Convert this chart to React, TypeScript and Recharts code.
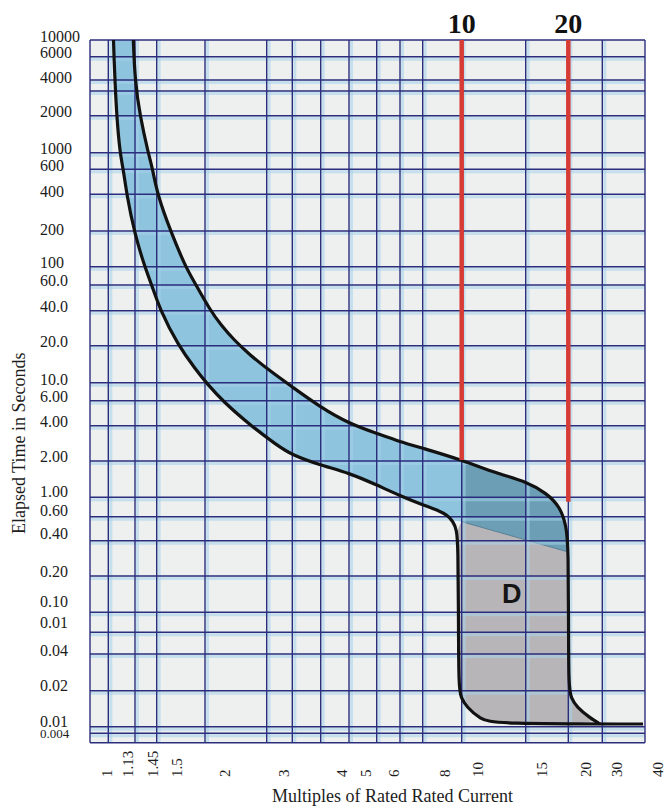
import React from 'react'
import {
  ComposedChart,
  Area,
  Line,
  XAxis,
  YAxis,
  CartesianGrid,
  ReferenceLine,
  ReferenceDot,
  Label,
} from 'recharts'

type Pt = [number, number]

// the printed scale is not a true log grid, so both axes run in plot units
// (0..555 across from the left border, 0..702.7 down from the top border)
const X_MAX = 555
const Y_MAX = 702.7

// x tick labels and where they sit along the bottom
const xTickLabels = ['1', '1.13', '1.45', '1.5', '2', '3', '4', '5', '6', '8', '10', '15', '20', '30', '40']
const xTickPos = [16.7, 38.3, 63.3, 86.7, 135, 194, 252, 276, 304, 355, 388, 452, 496, 527, 568]

// y tick labels (as printed, including the duplicated 0.01)
const yTickLabels = [
  '10000', '6000', '4000', '2000', '1000', '600', '400', '200', '100', '60.0', '40.0', '20.0', '10.0',
  '6.00', '4.00', '2.00', '1.00', '0.60', '0.40', '0.20', '0.10', '0.01', '0.04', '0.02', '0.01', '0.004',
]
const yTickPos = [
  -4, 12, 37, 71, 108, 125, 151, 189, 222, 240, 266.7, 301.7, 339, 356.7, 381.7, 416.7, 451.7, 470.7,
  493, 531.7, 561.7, 582.7, 610, 645, 681.7, 693.3,
]

// ruled grid
const xGrid = [0, 18.3, 45, 66.7, 115, 176.7, 202.3, 230.7, 259, 286.7, 310, 332.7, 371.7, 435.7, 478.3, 512.3, 555]
const yGrid = [
  0, 16.7, 40, 51, 75.7, 112.7, 129.3, 154.3, 191, 226.7, 245, 270.7, 305.7, 342.7, 360.7, 385.7, 421,
  457.3, 476.7, 500.7, 536, 572.3, 592.3, 614, 650.7, 686.7, 693.3, Y_MAX,
]

// lower (minimum trip) curve
const lowerA: Pt[] = [
  [23.5, 0], [24, 17], [25, 40.7], [26.7, 76], [30, 113.3], [33.3, 129.3], [36.7, 154.3], [44.3, 192.3],
  [55, 227.7], [60, 240], [70, 270], [88, 305], [106, 330], [116.7, 343.3], [133.3, 361.7], [160, 385],
  [186.7, 405], [202, 415], [230, 425], [260, 433.3], [286.7, 445], [310, 455.7], [333, 465], [350, 471],
  [356.7, 475], [363, 481],
]
const lowerB: Pt[] = [
  [366.7, 490], [368, 505], [368.5, 580], [368.7, 647], [371, 658], [376.7, 667], [390, 679], [405, 684],
]
const lowerTail: Pt[] = [[553, 684]]

// upper (maximum trip) curve
const upperA: Pt[] = [
  [43.3, 0], [45, 40.7], [50, 76], [58.3, 113.3], [62.7, 129.3], [67.3, 154.3], [81, 192.3], [96, 227.7],
  [103.3, 240], [120, 270], [131, 285], [144, 300], [160, 315], [180, 331], [201, 346], [230, 367],
  [260, 384], [286.7, 393.3], [310, 401.7], [333, 408.3], [371.7, 420],
]
const upperB: Pt[] = [
  [406.7, 433.3], [436.7, 441.7], [456.7, 453.3], [470, 466.7], [476.7, 486.7], [478.3, 512],
]
const upperC: Pt[] = [
  [478.5, 580], [478.7, 647], [481, 658], [486.7, 667], [500, 678], [510, 684],
]

const diagonal: Pt[] = [[371.7, 481.7], [478.3, 512]]

const redMarks = [
  { label: '10', x: 371.7, yEnd: 420 },
  { label: '20', x: 478.3, yEnd: 461.7 },
]

const rows = (pts: Pt[]) => pts.map(([x, y]) => ({ x, y }))
// repeat a vertex so the smoothed outline keeps a sharp corner there
const corner = (p: Pt): Pt[] => [p, p, p]
const rev = (pts: Pt[]) => [...pts].reverse()

const lowerCurve = rows([...lowerA, ...lowerB, ...lowerTail])
const upperCurve = rows([...upperA, ...upperB, ...upperC])
const tenPoint = upperA[upperA.length - 1]
const lightBand = rows([
  ...corner(upperA[0]), ...upperA.slice(1, -1), ...corner(tenPoint), ...corner(diagonal[0]),
  ...rev(lowerA).slice(0, -1), ...corner(lowerA[0]), ...corner(upperA[0]),
])
const darkBand = rows([
  ...corner(tenPoint), ...upperB.slice(0, -1), ...corner(diagonal[1]), ...corner(diagonal[0]), ...corner(tenPoint),
])
const grayZone = rows([
  ...corner(diagonal[0]), ...corner(diagonal[1]), ...upperC, ...rev(lowerB), ...corner(diagonal[0]),
])

const SERIF = '"Liberation Serif", "Times New Roman", serif'
const NAVY = '#2b2e7c'

const YTick = (props: any) => {
  const i = yTickPos.indexOf(props.payload.value)
  const text = yTickLabels[i]
  return (
    <text x={40} y={props.y} dy="0.35em" fontFamily={SERIF} fontSize={text === '0.004' ? 13 : 16} fill="#1c1c1c">
      {text}
    </text>
  )
}

const XTick = (props: any) => {
  const i = xTickPos.indexOf(props.payload.value)
  return (
    <text
      transform={`translate(${props.x},777) rotate(-90)`}
      textAnchor="start"
      dominantBaseline="central"
      fontFamily={SERIF}
      fontSize={15}
      fill="#1c1c1c"
    >
      {xTickLabels[i]}
    </text>
  )
}

const XTitle = ({ viewBox }: any) => (
  <text
    x={viewBox.x + viewBox.width * 0.545}
    y={viewBox.y + viewBox.height - 6}
    textAnchor="middle"
    fontFamily={SERIF}
    fontSize={18}
    fill="#1c1c1c"
  >
    Multiples of Rated Rated Current
  </text>
)

const YTitle = ({ viewBox }: any) => {
  const cx = viewBox.x + 19
  const cy = viewBox.y + viewBox.height * 0.574
  return (
    <text
      x={cx}
      y={cy}
      transform={`rotate(-90 ${cx} ${cy})`}
      textAnchor="middle"
      dominantBaseline="central"
      fontFamily={SERIF}
      fontSize={18}
      fill="#1c1c1c"
    >
      Elapsed Time in Seconds
    </text>
  )
}

export default function App() {
  return (
    <div style={{ position: 'absolute', left: 0, top: 0, width: 664, height: 808, background: '#fff' }}>
      <ComposedChart width={664} height={808} margin={{ top: 40, right: 19, bottom: 0, left: 0 }}>
        <CartesianGrid horizontal={false} vertical={false} fill="#eeefef" />
        <XAxis
          type="number"
          dataKey="x"
          domain={[0, X_MAX]}
          allowDataOverflow
          ticks={xTickPos}
          interval={0}
          height={65.3}
          axisLine={false}
          tickLine={false}
          tick={<XTick />}
        >
          <Label content={<XTitle />} />
        </XAxis>
        <YAxis
          type="number"
          domain={[0, Y_MAX]}
          allowDataOverflow
          reversed
          ticks={yTickPos}
          interval={0}
          width={90}
          axisLine={false}
          tickLine={false}
          tick={<YTick />}
        >
          <Label content={<YTitle />} />
        </YAxis>

        <Area data={lightBand} dataKey="y" type="basis" stroke="none" fill="#8ec4de" fillOpacity={1} isAnimationActive={false} />
        <Area data={darkBand} dataKey="y" type="basis" stroke="none" fill="#6c9fb5" fillOpacity={1} isAnimationActive={false} />
        <Area data={grayZone} dataKey="y" type="basis" stroke="none" fill="#b8b5b8" fillOpacity={1} isAnimationActive={false} />
        <Line data={rows(diagonal)} dataKey="y" type="linear" stroke="#557f93" strokeWidth={1} dot={false} isAnimationActive={false} />

        {/* faint light-blue print of the original scale beside each ruled line */}
        {xGrid.slice(1, -1).map((v) => (
          <ReferenceLine key={`hx${v}`} x={v + 2.5} stroke="#a6d2ea" strokeWidth={3} strokeOpacity={0.55} />
        ))}
        {yGrid.slice(1, -1).map((v) => (
          <ReferenceLine key={`hy${v}`} y={v + 2.5} stroke="#a6d2ea" strokeWidth={3} strokeOpacity={0.55} />
        ))}
        {xGrid.map((v) => (
          <ReferenceLine key={`gx${v}`} x={v} stroke={NAVY} strokeWidth={1.4} />
        ))}
        {yGrid.map((v) => (
          <ReferenceLine key={`gy${v}`} y={v} stroke={NAVY} strokeWidth={1.4} />
        ))}

        <Line data={upperCurve} dataKey="y" type="basis" stroke="#121212" strokeWidth={3.2} dot={false} isAnimationActive={false} />
        <Line data={lowerCurve} dataKey="y" type="basis" stroke="#121212" strokeWidth={3.2} dot={false} isAnimationActive={false} />

        {redMarks.map((m) => (
          <ReferenceLine
            key={m.label}
            segment={[{ x: m.x, y: 0 }, { x: m.x, y: m.yEnd }]}
            stroke="#d63c35"
            strokeWidth={4.5}
            label={{
              value: m.label,
              position: 'top',
              offset: 7,
              fontSize: 28,
              fontWeight: 700,
              fontFamily: SERIF,
              fill: '#111',
            }}
          />
        ))}

        <ReferenceDot
          x={421.7}
          y={553.3}
          r={0}
          fill="none"
          stroke="none"
          label={{ value: 'D', position: 'center', fontSize: 27, fontWeight: 700, fontFamily: '"Liberation Sans", Arial, sans-serif', fill: '#151515' }}
        />
      </ComposedChart>
    </div>
  )
}
